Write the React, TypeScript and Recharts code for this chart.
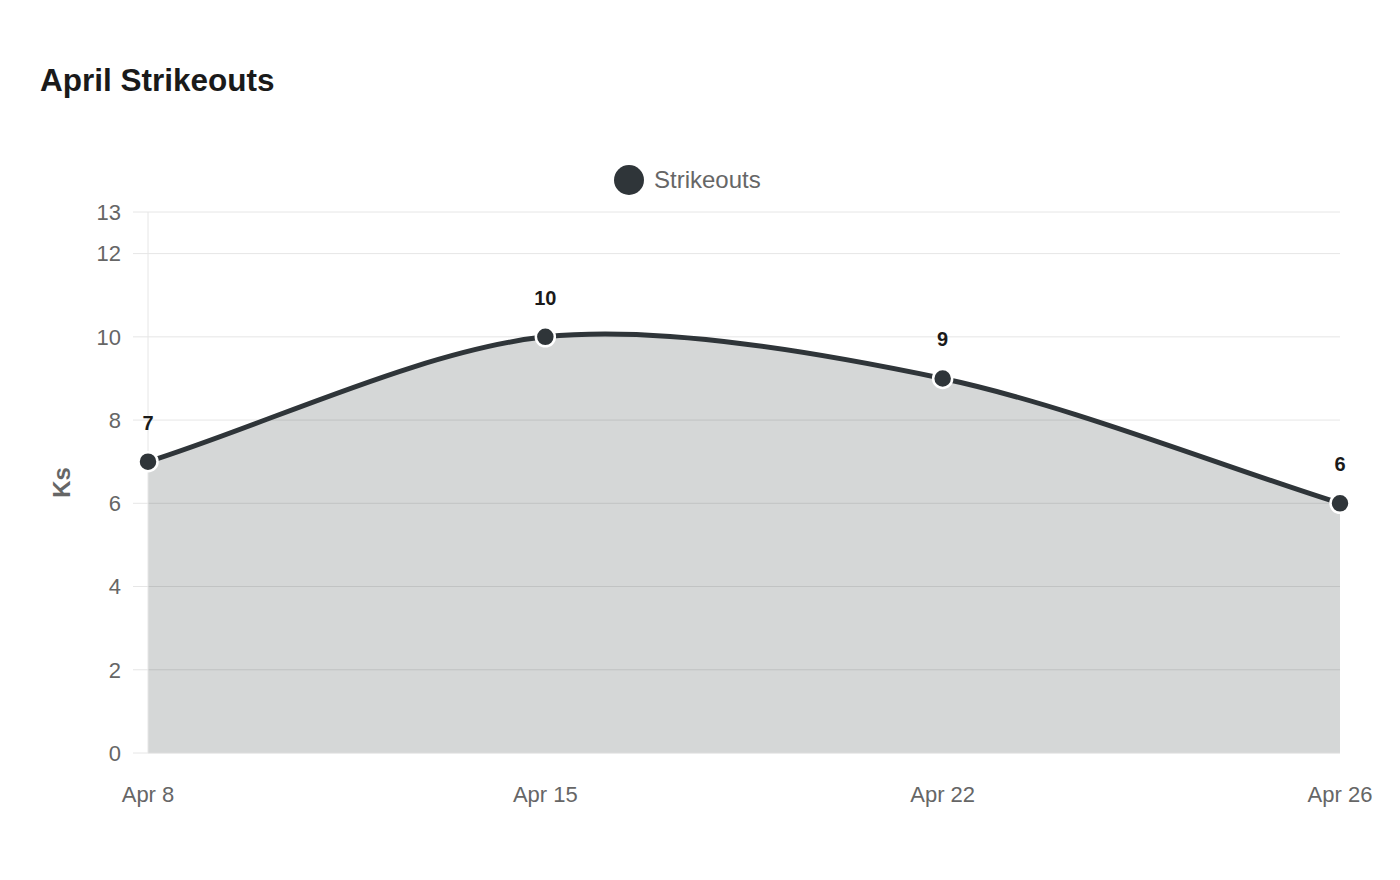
import React from 'react';
import { AreaChart, Area, XAxis, YAxis, CartesianGrid, Legend, LabelList } from 'recharts';

const dates = ['Apr 8', 'Apr 15', 'Apr 22', 'Apr 26'];
const strikeouts = [7, 10, 9, 6];
const yTicks = [0, 2, 4, 6, 8, 10, 12, 13];
const seriesName = 'Strikeouts';
const chartTitle = 'April Strikeouts';
const yAxisTitle = 'Ks';

const data = dates.map((d, i) => ({ date: d, ks: strikeouts[i] }));

const FONT = '"Liberation Sans", Arial, Helvetica, sans-serif';
const DARK = '#2f3539';
const GRID = '#e6e6e6';
const TENSION = 0.3;

// Chart.js-style bezier spline (tension based) as a d3 curve factory
function chartJsCurve(context: any) {
  let pts: [number, number][] = [];
  let line = NaN;
  const draw = () => {
    const n = pts.length;
    if (!n) return;
    if (line) context.lineTo(pts[0][0], pts[0][1]);
    else context.moveTo(pts[0][0], pts[0][1]);
    if (n === 1) return;
    const cps = pts.map((cur, i) => {
      const prev = i > 0 ? pts[i - 1] : cur;
      const next = i < n - 1 ? pts[i + 1] : cur;
      const d01 = Math.hypot(cur[0] - prev[0], cur[1] - prev[1]);
      const d12 = Math.hypot(next[0] - cur[0], next[1] - cur[1]);
      let s01 = d01 / (d01 + d12);
      let s12 = d12 / (d01 + d12);
      if (isNaN(s01)) s01 = 0;
      if (isNaN(s12)) s12 = 0;
      const fa = TENSION * s01;
      const fb = TENSION * s12;
      return {
        p: [cur[0] - fa * (next[0] - prev[0]), cur[1] - fa * (next[1] - prev[1])],
        n: [cur[0] + fb * (next[0] - prev[0]), cur[1] + fb * (next[1] - prev[1])],
      };
    });
    for (let i = 0; i < n - 1; i++) {
      const c1 = cps[i].n;
      const c2 = cps[i + 1].p;
      context.bezierCurveTo(c1[0], c1[1], c2[0], c2[1], pts[i + 1][0], pts[i + 1][1]);
    }
  };
  return {
    areaStart() {
      line = 0;
    },
    areaEnd() {
      line = NaN;
    },
    lineStart() {
      pts = [];
    },
    lineEnd() {
      draw();
      if (line || (line !== 0 && pts.length === 1)) context.closePath();
      line = 1 - line;
    },
    point(x: number, y: number) {
      pts.push([+x, +y]);
    },
  };
}

const renderLegend = () => (
  <div style={{ display: 'flex', alignItems: 'center', fontFamily: FONT, whiteSpace: 'nowrap' }}>
    <div style={{ width: 30, height: 30, borderRadius: '50%', background: DARK }} />
    <span style={{ marginLeft: 10, fontSize: 24, color: '#666', lineHeight: '30px' }}>{seriesName}</span>
  </div>
);

const renderLabel = (props: any) => {
  const { x, y, value } = props;
  return (
    <text x={x} y={y - 32} textAnchor="middle" fontFamily={FONT} fontSize={20} fontWeight={700} fill="#1a1a1a">
      {value}
    </text>
  );
};

const renderDot = (props: any) => {
  const { cx, cy, index } = props;
  if (cx == null || cy == null) return <g key={`d-${index}`} />;
  return (
    <circle
      key={`d-${index}`}
      cx={cx}
      cy={cy}
      r={9.5}
      fill={DARK}
      fillOpacity={1}
      stroke="#fff"
      strokeOpacity={1}
      strokeWidth={2.5}
    />
  );
};

const renderYLabel = (props: any) => {
  const vb = props.viewBox || {};
  const cx = (vb.x || 0) + 70;
  const cy = (vb.y || 0) + (vb.height || 0) / 2;
  return (
    <text
      x={cx}
      y={cy}
      transform={`rotate(-90 ${cx} ${cy})`}
      textAnchor="middle"
      fontFamily={FONT}
      fontSize={24}
      fontWeight={700}
      fill="#666"
    >
      {yAxisTitle}
    </text>
  );
};

export default function App() {
  return (
    <div style={{ position: 'absolute', left: 0, top: 0, width: 1400, height: 880, background: '#fff' }}>
      <div
        style={{
          position: 'absolute',
          left: 40,
          top: 65,
          fontFamily: FONT,
          fontSize: 31.5,
          fontWeight: 700,
          lineHeight: 1,
          color: '#1a1a1a',
          whiteSpace: 'nowrap',
        }}
      >
        {chartTitle}
      </div>
      <AreaChart width={1400} height={880} data={data} margin={{ top: 212, right: 60, bottom: 67, left: 0 }}>
        <CartesianGrid horizontal vertical={false} stroke={GRID} />
        <XAxis
          dataKey="date"
          height={60}
          axisLine={{ stroke: GRID }}
          tickLine={false}
          tickSize={0}
          tickMargin={33}
          interval={0}
          tick={{ fontFamily: FONT, fontSize: 22, fill: '#666' }}
        />
        <YAxis
          width={148}
          domain={[0, 13]}
          ticks={yTicks}
          interval={0}
          tickSize={15}
          tickMargin={12}
          axisLine={{ stroke: GRID }}
          tickLine={{ stroke: GRID }}
          tick={{ fontFamily: FONT, fontSize: 22, fill: '#666' }}
          label={{ content: renderYLabel }}
        />
        <Legend
          layout="horizontal"
          verticalAlign="middle"
          align="center"
          content={renderLegend}
          wrapperStyle={{ position: 'absolute', left: 614, top: 165, width: 'auto', height: 30 }}
        />
        <Area
          name={seriesName}
          dataKey="ks"
          type={chartJsCurve as any}
          stroke={DARK}
          strokeWidth={5}
          fill={DARK}
          fillOpacity={0.2}
          dot={renderDot}
          activeDot={false}
          isAnimationActive={false}
        >
          <LabelList dataKey="ks" content={renderLabel} />
        </Area>
      </AreaChart>
    </div>
  );
}
